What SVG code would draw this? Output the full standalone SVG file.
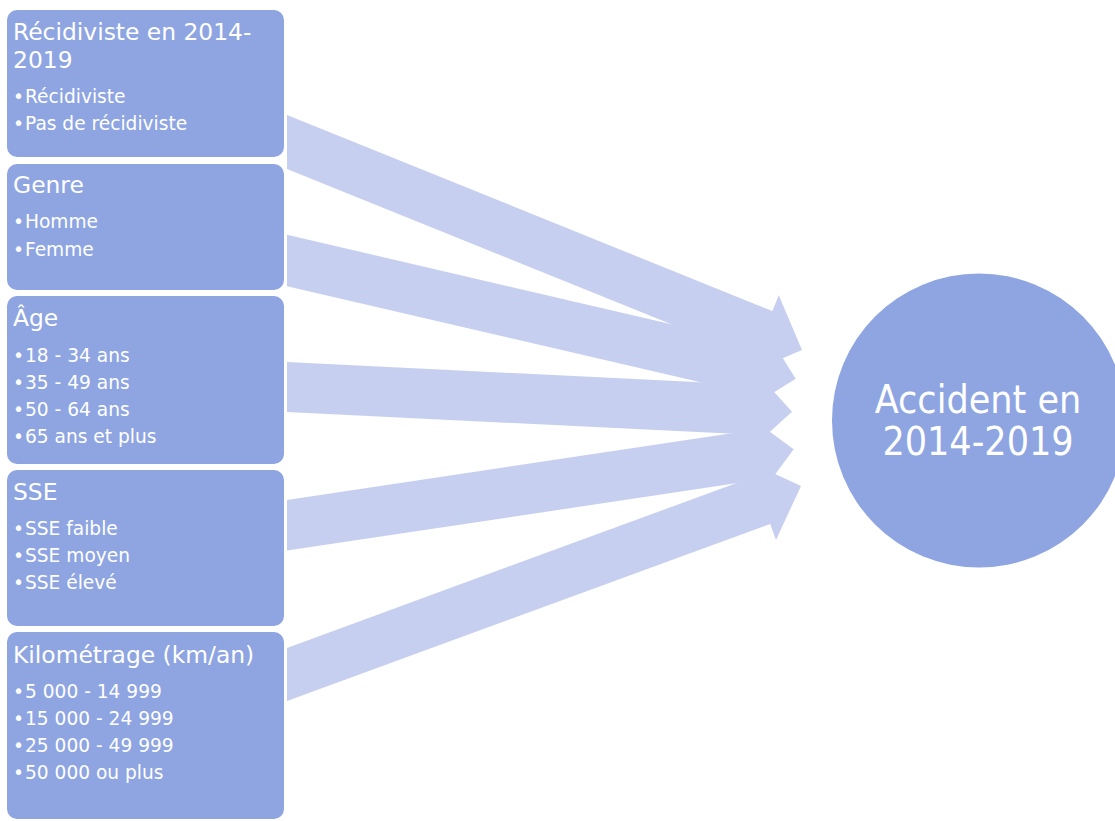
<svg xmlns="http://www.w3.org/2000/svg" width="1115" height="821" viewBox="0 0 1115 821">
  <style>
    .box { fill: #8EA5E1; stroke: #FFFFFF; stroke-width: 2; }
    .arrow { fill: #C6CFEF; }
    .hub { fill: #8EA5E1; }
    text { font-family: "DejaVu Sans", sans-serif; fill: #FFFFFF; }
    .title { font-size: 23.4px; }
    .item { font-size: 18.6px; }
    .hubtext { font-family: "DejaVu Sans Condensed", "DejaVu Sans", sans-serif; font-stretch: condensed; font-size: 39px; text-anchor: middle; }
  </style>
  <rect width="1115" height="821" fill="#FFFFFF"/>

  <!-- block arrows from each factor towards the outcome -->
  <g id="connectors">
    <polygon class="arrow" points="287,115 772.4,311.1 778.8,295.3 802,350 747.3,373.2 753.7,357.5 287,169"/>
    <polygon class="arrow" points="287,234.8 760.5,344.9 764.3,328.3 795.7,378.7 745.3,410.1 749.1,393.6 287,286.2"/>
    <polygon class="arrow" points="287,362 751.3,384.7 752.1,367.7 792,411.7 748,451.6 748.8,434.6 287,412"/>
    <polygon class="arrow" points="287,500 748.5,430.8 745.9,414 793.7,449.3 758.4,497.1 755.9,480.3 287,550.6"/>
    <polygon class="arrow" points="287,647.9 753,477 747.1,461 801,486 776,539.9 770.2,523.9 287,701.1"/>
  </g>

  <g id="node-recidiviste">
    <rect class="box" x="6" y="9" width="279" height="149" rx="11"/>
    <text class="title" x="13" y="40">Récidiviste en 2014-</text>
    <text class="title" x="13" y="68">2019</text>
    <text class="item" x="13" y="103">•</text><text class="item" x="25" y="103">Récidiviste</text>
    <text class="item" x="13" y="130">•</text><text class="item" x="25" y="130">Pas de récidiviste</text>
  </g>

  <g id="node-genre">
    <rect class="box" x="6" y="163" width="279" height="128" rx="11"/>
    <text class="title" x="13" y="193">Genre</text>
    <text class="item" x="13" y="228">•</text><text class="item" x="25" y="228">Homme</text>
    <text class="item" x="13" y="255.5">•</text><text class="item" x="25" y="255.5">Femme</text>
  </g>

  <g id="node-age">
    <rect class="box" x="6" y="295" width="279" height="170" rx="11"/>
    <text class="title" x="13" y="326">Âge</text>
    <text class="item" x="13" y="361.5">•</text><text class="item" x="25" y="361.5">18 - 34 ans</text>
    <text class="item" x="13" y="388.5">•</text><text class="item" x="25" y="388.5">35 - 49 ans</text>
    <text class="item" x="13" y="415.5">•</text><text class="item" x="25" y="415.5">50 - 64 ans</text>
    <text class="item" x="13" y="442.5">•</text><text class="item" x="25" y="442.5">65 ans et plus</text>
  </g>

  <g id="node-sse">
    <rect class="box" x="6" y="469" width="279" height="158" rx="11"/>
    <text class="title" x="13" y="500">SSE</text>
    <text class="item" x="13" y="535">•</text><text class="item" x="25" y="535">SSE faible</text>
    <text class="item" x="13" y="561.5">•</text><text class="item" x="25" y="561.5">SSE moyen</text>
    <text class="item" x="13" y="588.5">•</text><text class="item" x="25" y="588.5">SSE élevé</text>
  </g>

  <g id="node-kilometrage">
    <rect class="box" x="6" y="631" width="279" height="189" rx="11"/>
    <text class="title" x="13" y="663">Kilométrage (km/an)</text>
    <text class="item" x="13" y="697.5">•</text><text class="item" x="25" y="697.5">5 000 - 14 999</text>
    <text class="item" x="13" y="725">•</text><text class="item" x="25" y="725">15 000 - 24 999</text>
    <text class="item" x="13" y="752">•</text><text class="item" x="25" y="752">25 000 - 49 999</text>
    <text class="item" x="13" y="779">•</text><text class="item" x="25" y="779">50 000 ou plus</text>
  </g>

  <g id="node-accident">
    <circle class="hub" cx="979" cy="420.5" r="147"/>
    <text class="hubtext" x="978" y="413">Accident en</text>
    <text class="hubtext" x="978" y="455">2014-2019</text>
  </g>
</svg>
